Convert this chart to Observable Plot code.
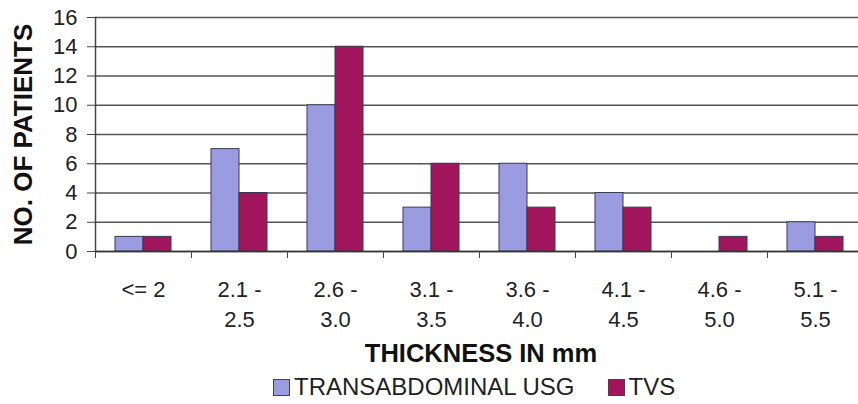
<!DOCTYPE html>
<html><head><meta charset="utf-8">
<script src="https://cdn.jsdelivr.net/npm/d3@7"></script>
<script src="https://cdn.jsdelivr.net/npm/@observablehq/plot@0.6"></script>
<style>
body{margin:0;background:#fff;font-family:"Liberation Sans",Arial,sans-serif;}
#chart svg{display:block;}
#legend{display:flex;align-items:center;height:34px;padding-left:273px;font-size:24px;color:#222;white-space:nowrap;}
.sw{width:15px;height:15px;border:1px solid #444;display:inline-block;margin-right:4px;}
</style></head><body><div id="chart"></div><div id="legend"></div>
<script>
const categories = ["<= 2","2.1 -\n2.5","2.6 -\n3.0","3.1 -\n3.5","3.6 -\n4.0","4.1 -\n4.5","4.6 -\n5.0","5.1 -\n5.5"];
const transabdominal = [1,7,10,3,6,4,0,2];
const tvs = [1,4,14,6,3,3,1,1];
const yTicks = [0,2,4,6,8,10,12,14,16];
const seriesNames = ["TRANSABDOMINAL USG","TVS"];
const seriesColors = ["#9b9be0","#a0155c"];
const yTitle = "NO. OF PATIENTS";
const xTitle = "THICKNESS IN mm";

const rows = categories.map((c,i)=>({cat:c, ta:transabdominal[i], tvs:tvs[i]}));
const font = "Liberation Sans, Arial, sans-serif";

const chart = Plot.plot({
  width: 858, height: 370,
  marginLeft: 95, marginRight: 0, marginTop: 17, marginBottom: 119,
  style: {fontFamily: font, background: "white", overflow: "visible", color: "#222"},
  x: {domain: categories, range: [95, 863], padding: 0},
  y: {domain: [0,16]},
  marks: [
    Plot.ruleY(yTicks, {stroke: "#555", strokeWidth: 1.5}),
    Plot.barY(rows.filter(d=>d.ta>0), {x:"cat", y:"ta", fill: seriesColors[0], stroke:"#3b3b50", strokeWidth:1, insetLeft:20, insetRight:48}),
    Plot.barY(rows.filter(d=>d.tvs>0), {x:"cat", y:"tvs", fill: seriesColors[1], stroke:"#3b3b50", strokeWidth:1, insetLeft:48, insetRight:20}),
    Plot.ruleY([0], {stroke:"#333", strokeWidth:1.5}),
    Plot.frame({anchor:"left", stroke:"#444", strokeWidth:1.5}),
    Plot.axisY({ticks: yTicks, tickSize: 8, tickPadding: 10, fontSize: 22, label: null, stroke:"#444"}),
    Plot.axisX({tickSize: 7, text: null, dx: -48, label: null, stroke:"#444"}),
    Plot.axisX({tickSize: 0, tickPadding: 24, fontSize: 22, lineHeight: 1.36, label: null}),
    Plot.text([yTitle], {text: d=>d, frameAnchor: "left", textAnchor: "middle", rotate: -90, dx: -72, fontSize: 26, fontWeight: "bold", fill:"#111"}),
    Plot.text([xTitle], {text: d=>d, frameAnchor: "bottom", lineAnchor: "middle", dy: 102, dx: 4, fontSize: 25.5, fontWeight: "bold", fill:"#111"})
  ]
});
document.getElementById("chart").appendChild(chart);

const legend = document.getElementById("legend");
seriesNames.forEach((n,i)=>{
  const s = document.createElement("span"); s.className="sw"; s.style.background=seriesColors[i];
  if (i>0) s.style.marginLeft = "33px";
  legend.appendChild(s);
  const t = document.createElement("span"); t.textContent = n; legend.appendChild(t);
});
</script></body></html>
